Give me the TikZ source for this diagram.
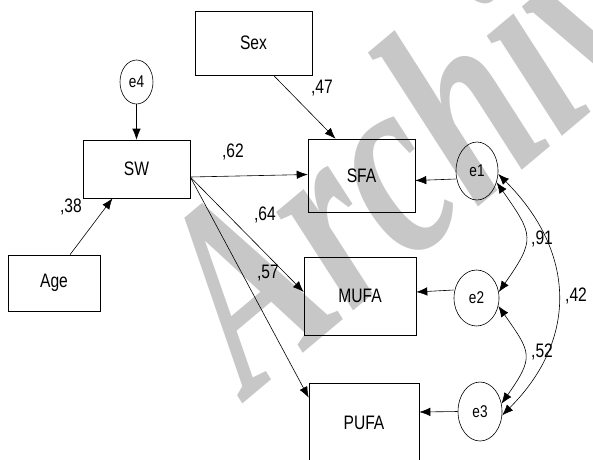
\documentclass[tikz,border=0pt]{standalone}
\usepackage{fontspec}
\setmainfont{Liberation Sans}[FakeStretch=0.8]
\newfontfamily\wmfont{Liberation Serif}[FakeStretch=0.72]
\usetikzlibrary{arrows.meta,shapes.geometric}
\begin{document}
\begin{tikzpicture}[x=1pt, y=1pt, font=\fontsize{19.5}{21}\selectfont,
    var/.style={draw, rectangle, inner sep=0pt, line width=0.6pt},
    err/.style={draw, ellipse, inner sep=0pt, line width=0.6pt, font=\fontsize{17}{19}\selectfont},
    coef/.style={inner sep=0pt},
    path/.style={-{Latex[length=11pt,width=8.5pt]}, line width=0.6pt},
    cov/.style={{Latex[length=11pt,width=8.5pt]}-{Latex[length=11pt,width=8.5pt]}, line width=0.6pt}]
            \useasboundingbox (0,0) rectangle (593,-459);
            \clip (0,0) rectangle (593,-459);
            \node[text=black!22, font=\wmfont\bfseries\itshape\fontsize{272}{272}\selectfont,
                anchor=base west, rotate=40, inner sep=0pt] (wm) at (250,-398) {Archive};
            % observed variables
            \node[var, minimum width=117, minimum height=64] (Sex) at (253.5,-43) {Sex};
            \node[var, minimum width=107, minimum height=58] (SW) at (136.5,-169) {SW};
            \node[var, minimum width=92, minimum height=56] (Age) at (54,-283) {Age};
            \node[var, minimum width=107, minimum height=73] (SFA) at (361.5,-175.5) {SFA};
            \node[var, minimum width=112, minimum height=78] (MUFA) at (360,-296) {MUFA};
            \node[var, minimum width=110, minimum height=80] (PUFA) at (364,-423) {PUFA};
            % error terms
            \node[err, minimum width=33, minimum height=44] (e4) at (136.5,-82) {e4};
            \node[err, minimum width=42, minimum height=58] (e1) at (477,-171) {e1};
            \node[err, minimum width=45, minimum height=56] (e2) at (476.5,-298) {e2};
            \node[err, minimum width=44, minimum height=59] (e3) at (480,-411.5) {e3};
            % paths
            \draw[path] (e4) -- (SW);
            \draw[path] ([xshift=16pt]Age.north) -- ([xshift=-24pt]SW.south);
            \draw[path] ([xshift=20pt]Sex.south) -- ([xshift=-26pt]SFA.north);
            \draw[path] ([yshift=-8pt]SW.east) -- ([yshift=1pt]SFA.west);
            \draw[path] ([yshift=-8pt]SW.east) -- ([yshift=4pt]MUFA.west);
            \draw[path] ([yshift=-8pt]SW.east) -- ([yshift=-15pt]PUFA.north west);
            \draw[path] ([yshift=-8pt]e1.west) -- ([yshift=-5pt]SFA.east);
            \draw[path] ([yshift=8pt]e2.west) -- ([yshift=4pt]MUFA.east);
            \draw[path] (e3.west) -- ([yshift=11pt]PUFA.east);
            % covariances
            \draw[cov] (e1.-30) to[out=-55, in=55, looseness=1.5] (e2.15);
            \draw[cov] (e2.-20) to[out=-55, in=55, looseness=1.5] (e3.20);
            \draw[cov] (e1.-8) to[out=-45, in=45, looseness=1.15] (e3.-10);
            % coefficients
            \node[coef] (c62) at (233,-152) {,62};
            \node[coef] (c47) at (322,-88) {,47};
            \node[coef] (c38) at (71,-207) {,38};
            \node[coef] (c64) at (265,-215) {,64};
            \node[coef] (c57) at (268,-273) {,57};
            \node[coef] (c91) at (542,-239) {,91};
            \node[coef] (c42) at (576,-296) {,42};
            \node[coef] (c52) at (542,-352) {,52};
\end{tikzpicture}
\end{document}
